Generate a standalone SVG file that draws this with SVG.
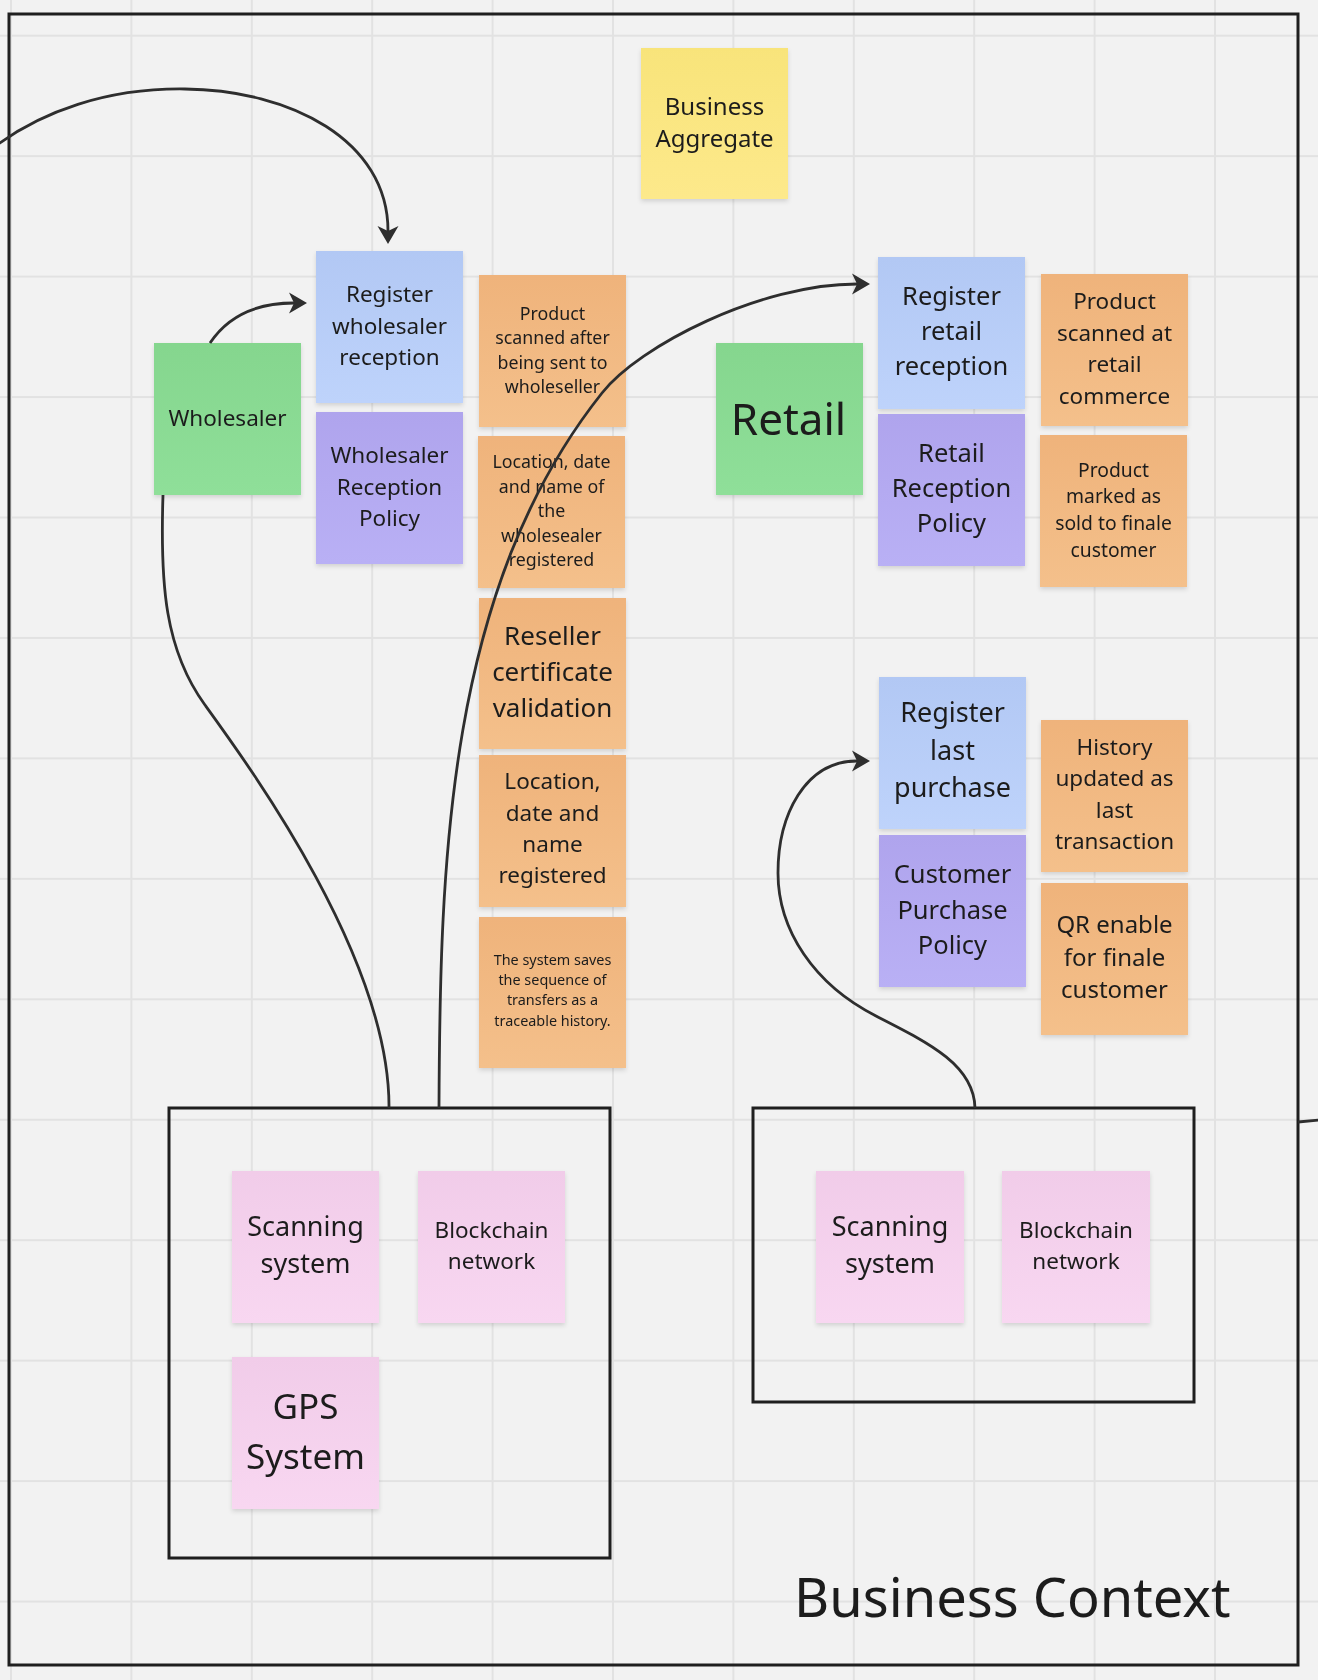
<svg xmlns="http://www.w3.org/2000/svg" width="1318" height="1680" viewBox="0 0 1318 1680">
<style>
.t{font-family:"Noto Sans","Open Sans","DejaVu Sans",sans-serif;fill:#1c1c1c;text-anchor:middle}
.sticky{filter:url(#sh)}
.frame{fill:none;stroke:#1f1f1f;stroke-width:3}
.conn{fill:none;stroke:#2e2e2e;stroke-width:2.8}
</style>
<defs>
<pattern id="grid" patternUnits="userSpaceOnUse" x="10" y="34.7" width="120.4" height="120.45">
<path d="M1,0 V120.45 M0,1 H120.4" stroke="#e2e2e2" stroke-width="2" fill="none"/>
</pattern>
<filter id="sh" x="-10%" y="-10%" width="120%" height="125%">
<feDropShadow dx="0" dy="2.5" stdDeviation="2" flood-color="#000" flood-opacity="0.13"/>
</filter>
<linearGradient id="gy" x1="0" y1="0" x2="0" y2="1"><stop offset="0" stop-color="#f8e47a"/><stop offset="1" stop-color="#fde98b"/></linearGradient>
<linearGradient id="gb" x1="0" y1="0" x2="0" y2="1"><stop offset="0" stop-color="#b2c8f4"/><stop offset="1" stop-color="#bed3fb"/></linearGradient>
<linearGradient id="gp" x1="0" y1="0" x2="0" y2="1"><stop offset="0" stop-color="#afa4ed"/><stop offset="1" stop-color="#b9b0f5"/></linearGradient>
<linearGradient id="go" x1="0" y1="0" x2="0" y2="1"><stop offset="0" stop-color="#efb37b"/><stop offset="1" stop-color="#f4c08b"/></linearGradient>
<linearGradient id="gg" x1="0" y1="0" x2="0" y2="1"><stop offset="0" stop-color="#85d68e"/><stop offset="1" stop-color="#8fdf99"/></linearGradient>
<linearGradient id="gk" x1="0" y1="0" x2="0" y2="1"><stop offset="0" stop-color="#f1cce9"/><stop offset="1" stop-color="#f8d7f1"/></linearGradient>
<marker id="arr" markerUnits="userSpaceOnUse" viewBox="-6 -12 20 24" refX="0" refY="0" markerWidth="20" markerHeight="24" orient="auto">
<path d="M13,0 L-5,-10.5 L0,0 L-5,10.5 Z" fill="#2e2e2e"/>
</marker>
</defs>
<rect width="1318" height="1680" fill="#f2f2f2"/>
<rect width="1318" height="1680" fill="url(#grid)"/>

<g id="business-context">
<rect class="frame" x="9" y="14" width="1289" height="1651"/>
<text class="t" x="794" y="1617" font-size="54.2" style="text-anchor:start">Business Context</text>
</g>

<g id="business-aggregate" class="sticky">
<rect x="641" y="48" width="147" height="151" fill="url(#gy)"/>
<text class="t" font-size="24"><tspan x="714.5" y="115">Business</tspan><tspan x="714.5" y="147">Aggregate</tspan></text>
</g>

<g id="register-wholesaler-reception" class="sticky">
<rect x="316" y="251" width="147" height="152" fill="url(#gb)"/>
<text class="t" font-size="22.5"><tspan x="389.5" y="302">Register</tspan><tspan x="389.5" y="333.5">wholesaler</tspan><tspan x="389.5" y="365">reception</tspan></text>
</g>

<g id="wholesaler" class="sticky">
<rect x="154" y="343" width="147" height="152" fill="url(#gg)"/>
<text class="t" font-size="22.5" x="227.5" y="426">Wholesaler</text>
</g>

<g id="wholesaler-reception-policy" class="sticky">
<rect x="316" y="412" width="147" height="152" fill="url(#gp)"/>
<text class="t" font-size="22.5"><tspan x="389.5" y="463">Wholesaler</tspan><tspan x="389.5" y="494.5">Reception</tspan><tspan x="389.5" y="526">Policy</tspan></text>
</g>

<g id="product-scanned-after" class="sticky">
<rect x="479" y="275" width="147" height="152" fill="url(#go)"/>
<text class="t" font-size="17.8"><tspan x="552.5" y="319.6">Product</tspan><tspan x="552.5" y="344">scanned after</tspan><tspan x="552.5" y="368.5">being sent to</tspan><tspan x="552.5" y="393">wholeseller</tspan></text>
</g>

<g id="location-wholesealer" class="sticky">
<rect x="478" y="436" width="147" height="152" fill="url(#go)"/>
<text class="t" font-size="17.8"><tspan x="551.5" y="468">Location, date</tspan><tspan x="551.5" y="492.5">and name of</tspan><tspan x="551.5" y="517">the</tspan><tspan x="551.5" y="541.5">wholesealer</tspan><tspan x="551.5" y="566">registered</tspan></text>
</g>

<g id="reseller-certificate" class="sticky">
<rect x="479" y="598" width="147" height="151" fill="url(#go)"/>
<text class="t" font-size="26"><tspan x="552.5" y="645">Reseller</tspan><tspan x="552.5" y="681">certificate</tspan><tspan x="552.5" y="717">validation</tspan></text>
</g>

<g id="location-registered" class="sticky">
<rect x="479" y="755" width="147" height="152" fill="url(#go)"/>
<text class="t" font-size="22.5"><tspan x="552.5" y="789.3">Location,</tspan><tspan x="552.5" y="820.7">date and</tspan><tspan x="552.5" y="852">name</tspan><tspan x="552.5" y="883.3">registered</tspan></text>
</g>

<g id="traceable-history" class="sticky">
<rect x="479" y="917" width="147" height="151" fill="url(#go)"/>
<text class="t" font-size="14.4"><tspan x="552.5" y="965">The system saves</tspan><tspan x="552.5" y="985.2">the sequence of</tspan><tspan x="552.5" y="1005.4">transfers as a</tspan><tspan x="552.5" y="1025.6">traceable history.</tspan></text>
</g>

<g id="retail" class="sticky">
<rect x="716" y="343" width="147" height="152" fill="url(#gg)"/>
<text class="t" font-size="44" x="788.5" y="434.5">Retail</text>
</g>

<g id="register-retail-reception" class="sticky">
<rect x="878" y="257" width="147" height="152" fill="url(#gb)"/>
<text class="t" font-size="25.5"><tspan x="951.5" y="305">Register</tspan><tspan x="951.5" y="340">retail</tspan><tspan x="951.5" y="375">reception</tspan></text>
</g>

<g id="retail-reception-policy" class="sticky">
<rect x="878" y="414" width="147" height="152" fill="url(#gp)"/>
<text class="t" font-size="25.5"><tspan x="951.5" y="462">Retail</tspan><tspan x="951.5" y="497">Reception</tspan><tspan x="951.5" y="532">Policy</tspan></text>
</g>

<g id="product-scanned-retail" class="sticky">
<rect x="1041" y="274" width="147" height="152" fill="url(#go)"/>
<text class="t" font-size="22.5"><tspan x="1114.5" y="309.2">Product</tspan><tspan x="1114.5" y="340.6">scanned at</tspan><tspan x="1114.5" y="372">retail</tspan><tspan x="1114.5" y="403.5">commerce</tspan></text>
</g>

<g id="product-marked-sold" class="sticky">
<rect x="1040" y="435" width="147" height="152" fill="url(#go)"/>
<text class="t" font-size="19.3"><tspan x="1113.5" y="476.5">Product</tspan><tspan x="1113.5" y="503.3">marked as</tspan><tspan x="1113.5" y="530">sold to finale</tspan><tspan x="1113.5" y="556.8">customer</tspan></text>
</g>

<g id="register-last-purchase" class="sticky">
<rect x="879" y="677" width="147" height="152" fill="url(#gb)"/>
<text class="t" font-size="27"><tspan x="952.5" y="721.7">Register</tspan><tspan x="952.5" y="759.5">last</tspan><tspan x="952.5" y="797.3">purchase</tspan></text>
</g>

<g id="customer-purchase-policy" class="sticky">
<rect x="879" y="835" width="147" height="152" fill="url(#gp)"/>
<text class="t" font-size="25.5"><tspan x="952.5" y="882.7">Customer</tspan><tspan x="952.5" y="918.5">Purchase</tspan><tspan x="952.5" y="954.3">Policy</tspan></text>
</g>

<g id="history-updated" class="sticky">
<rect x="1041" y="720" width="147" height="152" fill="url(#go)"/>
<text class="t" font-size="22.5"><tspan x="1114.5" y="755">History</tspan><tspan x="1114.5" y="786.3">updated as</tspan><tspan x="1114.5" y="817.6">last</tspan><tspan x="1114.5" y="849">transaction</tspan></text>
</g>

<g id="qr-enable" class="sticky">
<rect x="1041" y="883" width="147" height="152" fill="url(#go)"/>
<text class="t" font-size="24"><tspan x="1114.5" y="932.7">QR enable</tspan><tspan x="1114.5" y="965.5">for finale</tspan><tspan x="1114.5" y="998.3">customer</tspan></text>
</g>

<g id="wholesaler-systems">
<rect class="frame" x="169" y="1108" width="441" height="450"/>
</g>

<g id="scanning-system-1" class="sticky">
<rect x="232" y="1171" width="147" height="152" fill="url(#gk)"/>
<text class="t" font-size="27"><tspan x="305.5" y="1235.7">Scanning</tspan><tspan x="305.5" y="1273.3">system</tspan></text>
</g>

<g id="blockchain-network-1" class="sticky">
<rect x="418" y="1171" width="147" height="152" fill="url(#gk)"/>
<text class="t" font-size="22.5"><tspan x="491.5" y="1237.7">Blockchain</tspan><tspan x="491.5" y="1269">network</tspan></text>
</g>

<g id="gps-system" class="sticky">
<rect x="232" y="1357" width="147" height="152" fill="url(#gk)"/>
<text class="t" font-size="35"><tspan x="305.5" y="1419.3">GPS</tspan><tspan x="305.5" y="1469">System</tspan></text>
</g>

<g id="retail-systems">
<rect class="frame" x="753" y="1108" width="441" height="294"/>
</g>

<g id="scanning-system-2" class="sticky">
<rect x="816" y="1171" width="148" height="152" fill="url(#gk)"/>
<text class="t" font-size="27"><tspan x="890" y="1236">Scanning</tspan><tspan x="890" y="1273">system</tspan></text>
</g>

<g id="blockchain-network-2" class="sticky">
<rect x="1002" y="1171" width="148" height="152" fill="url(#gk)"/>
<text class="t" font-size="22.5"><tspan x="1076" y="1238">Blockchain</tspan><tspan x="1076" y="1269.4">network</tspan></text>
</g>

<g id="connectors">
<path class="conn" d="M-12,152 C40,110 110,88 185,89 C290,90 388,140 388,231" marker-end="url(#arr)"/>
<path class="conn" d="M210,343 C228,316 255,303 294,303" marker-end="url(#arr)"/>
<path class="conn" d="M163,495 C160,585 165,650 205,705 C252,770 390,960 389,1108"/>
<path class="conn" d="M439,1108 C440,860 447,588 602,393 C639,346 760,284 857,284" marker-end="url(#arr)"/>
<path class="conn" d="M975,1108 C974,1065 929,1043 876,1016 C814,984.5 778,930 778,873 C778,815 805,761 857,761" marker-end="url(#arr)"/>
<path class="conn" d="M1298,1122 L1320,1120"/>
</g>
</svg>
